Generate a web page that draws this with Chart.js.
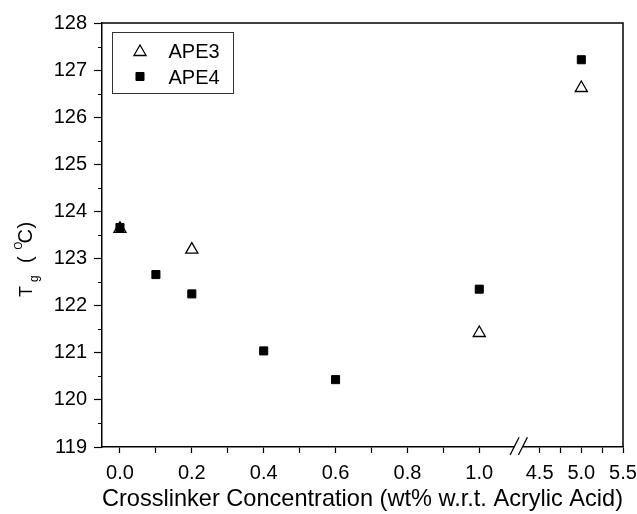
<!DOCTYPE html>
<html>
<head>
<meta charset="utf-8">
<title>Tg vs crosslinker concentration</title>
<script src="https://cdn.jsdelivr.net/npm/chart.js"></script>
<style>
  html, body { margin: 0; padding: 0; background: #fff; }
  #wrap { width: 637px; height: 514px; }
</style>
</head>
<body>
<div id="wrap"><canvas id="tgChart" width="637" height="514"></canvas></div>
<script>
// crosslinker concentration (wt% w.r.t. acrylic acid) and Tg (C)
const ape3Conc = [0.0, 0.2, 1.0, 5.0];
const ape3Tg   = [123.63, 123.19, 121.42, 126.62];
const ape4Conc = [0.0, 0.1, 0.2, 0.4, 0.6, 1.0, 5.0];
const ape4Tg   = [123.66, 122.66, 122.25, 121.04, 120.43, 122.35, 127.22];

const xTickValues = [0, 0.1, 0.2, 0.3, 0.4, 0.5, 0.6, 0.7, 0.8, 0.9, 1.0, 4.5, 4.75, 5.0, 5.25, 5.5];
const xTickLabels = ["0.0", "", "0.2", "", "0.4", "", "0.6", "", "0.8", "", "1.0", "4.5", "", "5.0", "", "5.5"];
const yMin = 119, yMax = 128;

// broken x axis: values past BREAK_HI are squeezed in right after BREAK_LO
const BREAK_LO = 1.11, BREAK_HI = 4.25, HI_SCALE = 0.232;
function toAxis(x) {
  return x <= BREAK_LO ? x : BREAK_LO + (x - BREAK_HI) * HI_SCALE;
}

function points(xs, ys) {
  return xs.map((x, i) => ({ x: toAxis(x), y: ys[i] }));
}

const FONT = "'Liberation Sans', Arial, sans-serif";
Chart.defaults.font.family = FONT;
Chart.defaults.color = "#000";

const extras = {
  id: "extras",
  afterDraw(chart) {
    const ctx = chart.ctx;
    const area = chart.chartArea;
    const xs = chart.scales.x, ys = chart.scales.y;
    ctx.save();

    // top and right frame
    ctx.strokeStyle = "#000";
    ctx.lineWidth = 1.5;
    ctx.beginPath();
    ctx.moveTo(area.left, area.top);
    ctx.lineTo(area.right, area.top);
    ctx.lineTo(area.right, area.bottom);
    ctx.stroke();

    // y minor ticks
    ctx.lineWidth = 1.2;
    ctx.beginPath();
    for (let v = yMin + 0.5; v < yMax; v += 1) {
      const py = Math.round(ys.getPixelForValue(v)) + 0.5;
      ctx.moveTo(area.left - 4, py);
      ctx.lineTo(area.left, py);
    }
    ctx.stroke();

    // axis break marks
    const bx = xs.getPixelForValue(BREAK_LO);
    const by = area.bottom;
    ctx.fillStyle = "#fff";
    ctx.fillRect(bx - 4.2, by - 2, 8.5, 4);
    ctx.lineWidth = 1.3;
    ctx.beginPath();
    ctx.moveTo(bx - 8.7, by + 8);
    ctx.lineTo(bx + 0.3, by - 9.7);
    ctx.moveTo(bx - 0.4, by + 8);
    ctx.lineTo(bx + 8.6, by - 9.7);
    ctx.stroke();

    // legend box
    const lx = area.left + 10.5, ly = area.top + 9.5;
    ctx.lineWidth = 1;
    ctx.strokeStyle = "#333";
    ctx.strokeRect(lx, ly, 121, 61);
    chart.data.datasets.forEach((ds, i) => {
      const cy = ly + 18 + i * 26;
      ctx.fillStyle = ds.backgroundColor;
      ctx.strokeStyle = ds.borderColor;
      ctx.lineWidth = ds.borderWidth;
      Chart.helpers.drawPoint(ctx, {
        pointStyle: ds.pointStyle, radius: ds.pointRadius,
        borderWidth: ds.borderWidth, rotation: 0
      }, lx + 27.5, cy + (ds.pointStyle === "triangle" ? 1.5 : 0));
      ctx.fillStyle = "#000";
      ctx.font = "20px " + FONT;
      ctx.textBaseline = "alphabetic";
      ctx.textAlign = "left";
      ctx.fillText(ds.label, lx + 56, cy + 7);
    });

    // y title: T_g (^O C) rotated
    ctx.translate(31.5, 297);
    ctx.rotate(-Math.PI / 2);
    ctx.fillStyle = "#000";
    ctx.textAlign = "left";
    ctx.textBaseline = "alphabetic";
    const parts = [
      { t: "T", size: 18, at: 0, dy: 0 },
      { t: "g", size: 12, at: 15, dy: 6.5 },
      { t: "(", size: 20, at: 34, dy: 0 },
      { t: "O", size: 10, at: 47.5, dy: -10 },
      { t: "C", size: 20, at: 53.5, dy: 0 },
      { t: ")", size: 20, at: 68.5, dy: 0 }
    ];
    parts.forEach(p => {
      ctx.font = p.size + "px " + FONT;
      ctx.fillText(p.t, p.at, p.dy);
    });
    ctx.restore();
  }
};

const pointBase = { showLine: false, clip: false };

new Chart(document.getElementById("tgChart"), {
  type: "scatter",
  data: {
    datasets: [
      {
        ...pointBase,
        label: "APE3",
        data: points(ape3Conc, ape3Tg),
        pointStyle: "triangle",
        pointRadius: 7,
        borderWidth: 1.3,
        borderColor: "#000",
        backgroundColor: "rgba(0,0,0,0)"
      },
      {
        ...pointBase,
        label: "APE4",
        data: points(ape4Conc, ape4Tg),
        pointStyle: "rect",
        pointRadius: 5.7,
        borderWidth: 1,
        borderColor: "#000",
        backgroundColor: "#000"
      }
    ]
  },
  options: {
    responsive: false,
    animation: false,
    events: [],
    layout: { padding: { top: 23, right: 14, left: 0, bottom: 0 } },
    plugins: { legend: { display: false }, tooltip: { enabled: false } },
    scales: {
      x: {
        type: "linear",
        min: -0.05,
        max: 1.4,
        afterBuildTicks: axis => {
          axis.ticks = xTickValues.map(v => ({ value: toAxis(v) }));
        },
        afterFit: axis => {
          axis.height = 67;
          axis.paddingLeft = 0;
          axis.paddingRight = 0;
        },
        ticks: {
          autoSkip: false,
          maxRotation: 0,
          padding: 8,
          font: { size: 20 },
          color: "#000",
          callback: (value, index) => xTickLabels[index]
        },
        grid: {
          drawOnChartArea: false,
          tickLength: 6,
          tickColor: "#000",
          tickWidth: 1.2
        },
        border: { display: true, color: "#000", width: 1.5 },
        title: {
          display: true,
          text: "Crosslinker Concentration (wt% w.r.t. Acrylic Acid)",
          font: { size: 24 },
          color: "#000",
          padding: { top: 0, bottom: 0 }
        }
      },
      y: {
        min: yMin,
        max: yMax,
        afterFit: axis => {
          axis.width = 102;
          axis.paddingTop = 0;
          axis.paddingBottom = 0;
        },
        ticks: {
          stepSize: 1,
          padding: 7,
          font: { size: 20 },
          color: "#000"
        },
        grid: {
          drawOnChartArea: false,
          tickLength: 8,
          tickColor: "#000",
          tickWidth: 1.2
        },
        border: { display: true, color: "#000", width: 1.5 }
      }
    }
  },
  plugins: [extras]
});
</script>
</body>
</html>
